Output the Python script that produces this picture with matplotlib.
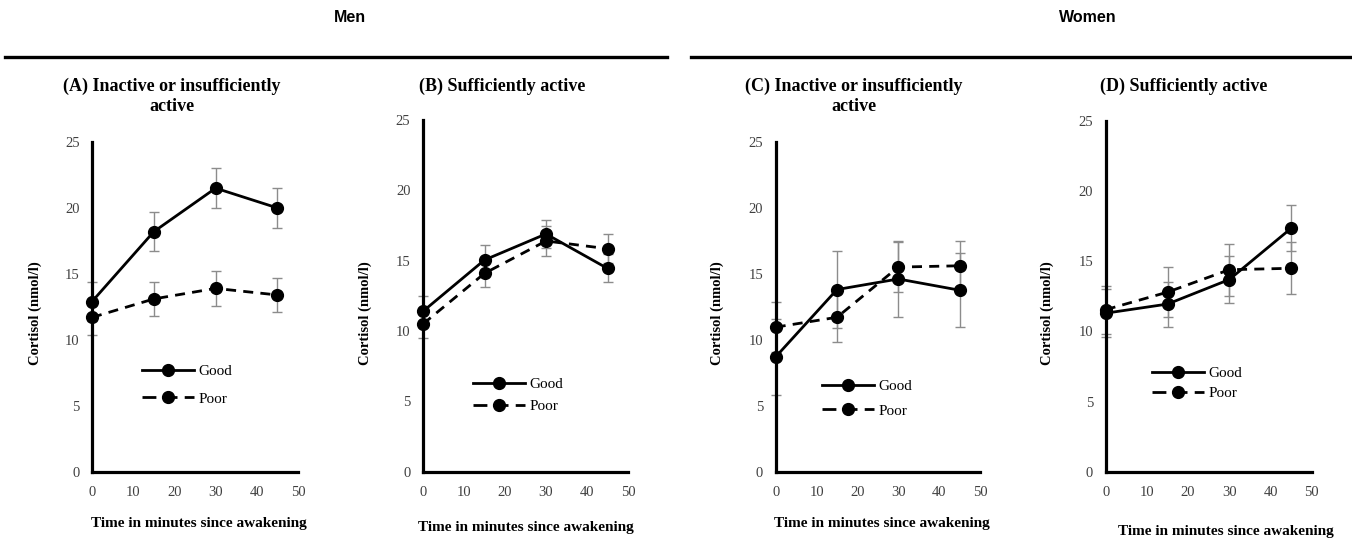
import matplotlib
matplotlib.use("Agg")
import matplotlib.pyplot as plt
from matplotlib.lines import Line2D

W, H = 1352, 544

time_min = [0, 15, 30, 45]
panel_titles = ["(A) Inactive or insufficiently\nactive", "(B) Sufficiently active",
                "(C) Inactive or insufficiently\nactive", "(D) Sufficiently active"]
group_labels = ["Men", "Women"]
series_labels = ["Good", "Poor"]

A_good = [12.9, 18.2, 21.5, 20.0]
A_good_err = [1.5, 1.5, 1.5, 1.5]
A_poor = [11.7, 13.1, 13.9, 13.4]
A_poor_err = [1.3, 1.3, 1.3, 1.3]

B_good = [11.4, 15.05, 16.9, 14.45]
B_good_err = [1.1, 1.1, 1.0, 1.0]
B_poor = [10.5, 14.1, 16.4, 15.85]
B_poor_err = [1.0, 1.0, 1.05, 1.05]

C_good = [8.7, 13.8, 14.6, 13.75]
C_good_err = [2.9, 2.9, 2.85, 2.8]
C_poor = [10.95, 11.7, 15.5, 15.6]
C_poor_err = [1.9, 1.9, 1.9, 1.9]

D_good = [11.3, 11.95, 13.7, 17.35]
D_good_err = [1.7, 1.6, 1.7, 1.65]
D_poor = [11.55, 12.8, 14.4, 14.5]
D_poor_err = [1.7, 1.8, 1.85, 1.85]

x_ticks = [0, 10, 20, 30, 40, 50]
y_ticks = [0, 5, 10, 15, 20, 25]
xlabel = "Time in minutes since awakening"
ylabel = "Cortisol (nmol/l)"

panels = [
    (A_good, A_good_err, A_poor, A_poor_err),
    (B_good, B_good_err, B_poor, B_poor_err),
    (C_good, C_good_err, C_poor, C_poor_err),
    (D_good, D_good_err, D_poor, D_poor_err),
]

# layout in pixels: (axis left, axis right, y of 25, y of 0)
boxes = [(92, 298, 142, 471.7), (423, 628, 120, 471.7),
         (775.7, 980, 141.7, 471.7), (1105.7, 1311.7, 121, 471.7)]
title_pos = [(172, 78), (502, 78), (854, 78), (1184, 78)]
ylabel_pos = [(35, 313), (365, 313), (717, 313), (1047, 313)]
xlabel_pos = [(199, 523), (526, 528), (882, 523), (1226, 531)]
legend_pos = [(141.7, 385, 0.9), (473, 395.5, 0.56), (822, 398.5, 0.7), (1152, 383.5, 0.42)]

serif = ["Liberation Serif", "DejaVu Serif"]
tick_color = "#404040"
err_color = "#8c8c8c"

fig = plt.figure(figsize=(W / 100, H / 100), dpi=100)

def fx(px):
    return px / W

def fy(py):
    return 1 - py / H

for i, (good, good_err, poor, poor_err) in enumerate(panels):
    l, r, t, b = boxes[i]
    ax = fig.add_axes([fx(l), fy(b), (r - l) / W, (b - t) / H])
    ax.errorbar(time_min, good, yerr=good_err, fmt="none", ecolor=err_color,
                elinewidth=1.0, capsize=3.5, capthick=1.0, zorder=2, clip_on=False)
    ax.errorbar(time_min, poor, yerr=poor_err, fmt="none", ecolor=err_color,
                elinewidth=1.0, capsize=3.5, capthick=1.0, zorder=2, clip_on=False)
    ax.plot(time_min, good, color="black", lw=2.0, marker="o", ms=8.5,
            label=series_labels[0], zorder=4, clip_on=False)
    ax.plot(time_min, poor, color="black", lw=2.0, marker="o", ms=8.5,
            dashes=(3.6, 2.6), label=series_labels[1], zorder=3, clip_on=False)
    ax.set_xlim(0, 50)
    ax.set_ylim(0, 25)
    ax.set_xticks(x_ticks)
    ax.set_yticks(y_ticks)
    for s in ["top", "right"]:
        ax.spines[s].set_visible(False)
    for s in ["left", "bottom"]:
        ax.spines[s].set_linewidth(2.3)
        ax.spines[s].set_color("black")
    ax.tick_params(axis="both", length=0, labelsize=10.5, labelcolor=tick_color)
    ax.tick_params(axis="y", pad=9)
    ax.tick_params(axis="x", pad=10)
    for lab in ax.get_xticklabels() + ax.get_yticklabels():
        lab.set_family(serif)
    ax.set_facecolor("none")

    lx, ly, ls = legend_pos[i]
    leg = ax.legend(loc="center left", bbox_to_anchor=(fx(lx), fy(ly)),
                    bbox_transform=fig.transFigure, frameon=False,
                    borderpad=0, borderaxespad=0, handlelength=3.4,
                    handletextpad=0.3, labelspacing=ls,
                    prop={"family": serif, "size": 11})
    leg.get_lines()[1].set_dashes((5.0, 2.6))

    tx, ty = title_pos[i]
    fig.text(fx(tx), fy(ty), panel_titles[i], ha="center", va="top",
             family=serif, weight="bold", fontsize=13, linespacing=1.2)
    yx, yy = ylabel_pos[i]
    fig.text(fx(yx), fy(yy), ylabel, ha="center", va="center", rotation=90,
             family=serif, weight="bold", fontsize=10.5)
    xx, xy = xlabel_pos[i]
    fig.text(fx(xx), fy(xy), xlabel, ha="center", va="center",
             family=serif, weight="bold", fontsize=11)

# group headers with rules
fig.text(fx(350), fy(18), group_labels[0], ha="center", va="center",
         family=["Liberation Sans", "DejaVu Sans"], weight="bold", fontsize=11.5)
fig.text(fx(1088), fy(18), group_labels[1], ha="center", va="center",
         family=["Liberation Sans", "DejaVu Sans"], weight="bold", fontsize=11.5)
fig.add_artist(Line2D([fx(5), fx(667)], [fy(57), fy(57)], color="black", lw=2.4,
                      transform=fig.transFigure))
fig.add_artist(Line2D([fx(691), fx(1350)], [fy(57), fy(57)], color="black", lw=2.4,
                      transform=fig.transFigure))

fig.savefig("out.png", dpi=100, facecolor="white")
